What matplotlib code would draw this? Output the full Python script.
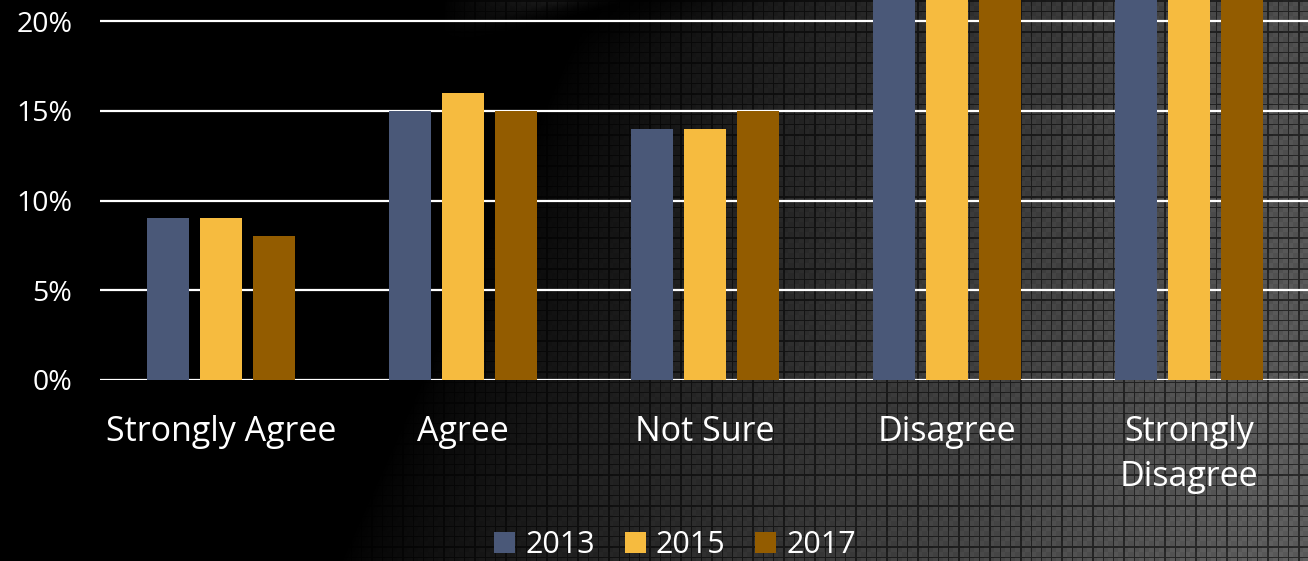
import numpy as np
import matplotlib
matplotlib.use("Agg")
import matplotlib.pyplot as plt
from matplotlib.patches import Patch

categories = ["Strongly Agree", "Agree", "Not Sure", "Disagree", "Strongly\nDisagree"]
years = ["2013", "2015", "2017"]
v2013 = [9, 15, 14, 30, 28]
v2015 = [9, 16, 14, 29, 26]
v2017 = [8, 15, 15, 31, 27]
yticks = [0, 5, 10, 15, 20]
ytick_labels = ["0%", "5%", "10%", "15%", "20%"]
colors = ["#4A5878", "#F6BB3F", "#935C00"]

W, H = 1308, 561
fig = plt.figure(figsize=(W / 100, H / 100), dpi=100)
fig.patch.set_facecolor("black")

# background texture
yy, xx = np.mgrid[0:H, 0:W].astype(float)
x0 = 340 + 0.45 * (H - yy)
t = np.clip((xx - x0) / 900.0, 0, 1)
b = 0.36 * t ** 0.75
# lighter band at top above a dark streak
d = (yy - (35 - 0.25 * (xx - 500)))  # negative above line
band = 0.17 * np.clip(-d / 20.0, 0, 1) * np.clip((xx - 440) / 120.0, 0, 1)
b = np.maximum(b, band)
streak = np.exp(-(d / 28.0) ** 2) * np.clip((900 - xx) / 300.0, 0, 1)
b = b * (1 - 0.75 * streak)
# grid texture
gx = (xx % 10.3) < 1.3
gy = (yy % 10.3) < 1.3
mult = np.where(gx | gy, 0.45, 1.0)
chk = ((np.floor(xx / 5.15) + np.floor(yy / 5.15)) % 2) * 0.08 + 0.96
b = b * mult * chk
img = np.dstack([b, b, b])
img = np.clip(img, 0, 1)
bg = fig.add_axes([0, 0, 1, 1], zorder=-10)
bg.imshow(img, aspect="auto", interpolation="nearest")
bg.axis("off")

ax = fig.add_axes([100 / W, (H - 380) / H, 1210 / W, 380 / H])
ax.patch.set_alpha(0)
x = np.arange(len(categories))
off = 0.221
bw = 0.1736
for i, (vals, c) in enumerate(zip([v2013, v2015, v2017], colors)):
    ax.bar(x + (i - 1) * off, vals, width=bw, color=c, zorder=3, label=years[i])

ax.set_xlim(-0.5, 4.5)
ax.set_ylim(0, 380 / 17.95)
ax.set_yticks(yticks)
ax.set_yticklabels(ytick_labels)
ax.set_xticks(x)
ax.set_xticklabels(categories, linespacing=1.45)
ax.yaxis.grid(True, color="white", linewidth=1.6, zorder=1)
ax.set_axisbelow(True)
for s in ax.spines.values():
    s.set_visible(False)
ax.tick_params(axis="both", length=0, colors="white")
ax.tick_params(axis="y", pad=20, labelsize=20.5)
ax.tick_params(axis="x", pad=25, labelsize=24.5)
for lbl in ax.get_xticklabels() + ax.get_yticklabels():
    lbl.set_family("Open Sans")
    lbl.set_color("white")

handles = [Patch(facecolor=c, edgecolor="none") for c in colors]
fs = 22
leg = fig.legend(handles, years, loc="center", bbox_to_anchor=(675 / W, 1 - 545 / H),
                 ncol=3, frameon=False, handlelength=21 / (fs * 1.389), handleheight=21 / (fs * 1.389),
                 handletextpad=10 / (fs * 1.389), columnspacing=30 / (fs * 1.389),
                 prop={"family": "Open Sans", "size": fs})
for tx in leg.get_texts():
    tx.set_color("white")

fig.savefig("out.png", dpi=100, facecolor=fig.get_facecolor())
